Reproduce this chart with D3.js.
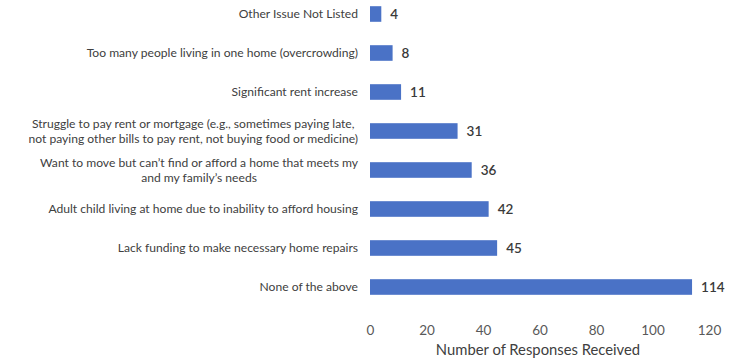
<!DOCTYPE html>
<html>
<head>
<meta charset="utf-8">
<script src="https://cdn.jsdelivr.net/npm/d3@7/dist/d3.min.js"></script>
<style>
  html, body { margin: 0; padding: 0; background: #fff; }
  svg { display: block; }
  text { font-family: Lato, "Open Sans", sans-serif; }
</style>
</head>
<body>
<svg id="chart" width="738" height="359"></svg>
<script>
// Housing issues reported, one bar per response option
const categories = [
  "Other Issue Not Listed",
  "Too many people living in one home (overcrowding)",
  "Significant rent increase",
  "Struggle to pay rent or mortgage (e.g., sometimes paying late,\nnot paying other bills to pay rent, not buying food or medicine)",
  "Want to move but can\u2019t find or afford a home that meets my\nand my family\u2019s needs",
  "Adult child living at home due to inability to afford housing",
  "Lack funding to make necessary home repairs",
  "None of the above"
];
const responses = [4, 8, 11, 31, 36, 42, 45, 114];
const xTicks = [0, 20, 40, 60, 80, 100, 120];
const xTitle = "Number of Responses Received";

const svg = d3.select("#chart");

const x = d3.scaleLinear().domain([0, 120]).range([370, 709]);
const y = d3.scaleBand()
  .domain(categories)
  .range([-5.5, 306.5])
  .paddingInner(0.6)
  .paddingOuter(0.3);

// Bars
svg.append("g").selectAll("rect")
  .data(responses)
  .join("rect")
  .attr("x", x(0))
  .attr("y", (d, i) => y(categories[i]))
  .attr("width", d => x(d) - x(0))
  .attr("height", y.bandwidth())
  .attr("fill", "#4a72c6");

// Value labels
svg.append("g").selectAll("text")
  .data(responses)
  .join("text")
  .attr("x", d => x(d) + 9)
  .attr("y", (d, i) => y(categories[i]) + y.bandwidth() / 2)
  .attr("dy", "0.36em")
  .attr("font-size", 13.5)
  .attr("font-weight", 600)
  .attr("fill", "#3a3a3a")
  .text(d => d);

// Category labels: right-aligned block, lines centred within the block
const labelRight = 358;
const lineH = 15;
const labelG = svg.append("g");
categories.forEach(cat => {
  const lines = cat.split("\n");
  const g = labelG.append("g");
  const cy = y(cat) + y.bandwidth() / 2;
  const texts = lines.map((ln, j) => g.append("text")
    .attr("y", cy + (j - (lines.length - 1) / 2) * lineH)
    .attr("dy", "0.36em")
    .attr("font-size", 12.1)
    .attr("fill", "#404040")
    .attr("text-anchor", "middle")
    .text(ln));
  const maxW = d3.max(texts, t => t.node().getComputedTextLength());
  texts.forEach(t => t.attr("x", labelRight - maxW / 2));
});

// X axis (labels only, no line or ticks)
const xAxis = svg.append("g")
  .attr("transform", "translate(0,317)")
  .call(d3.axisBottom(x).tickValues(xTicks).tickSize(0).tickPadding(8));
xAxis.select(".domain").remove();
xAxis.selectAll("text")
  .attr("font-family", "Lato, 'Open Sans', sans-serif")
  .attr("font-size", 13.5)
  .attr("fill", "#595959");

// Axis title
svg.append("text")
  .attr("x", 538)
  .attr("y", 350)
  .attr("dy", "0.36em")
  .attr("text-anchor", "middle")
  .attr("font-size", 14.8)
  .attr("fill", "#404040")
  .text(xTitle);
</script>
</body>
</html>
